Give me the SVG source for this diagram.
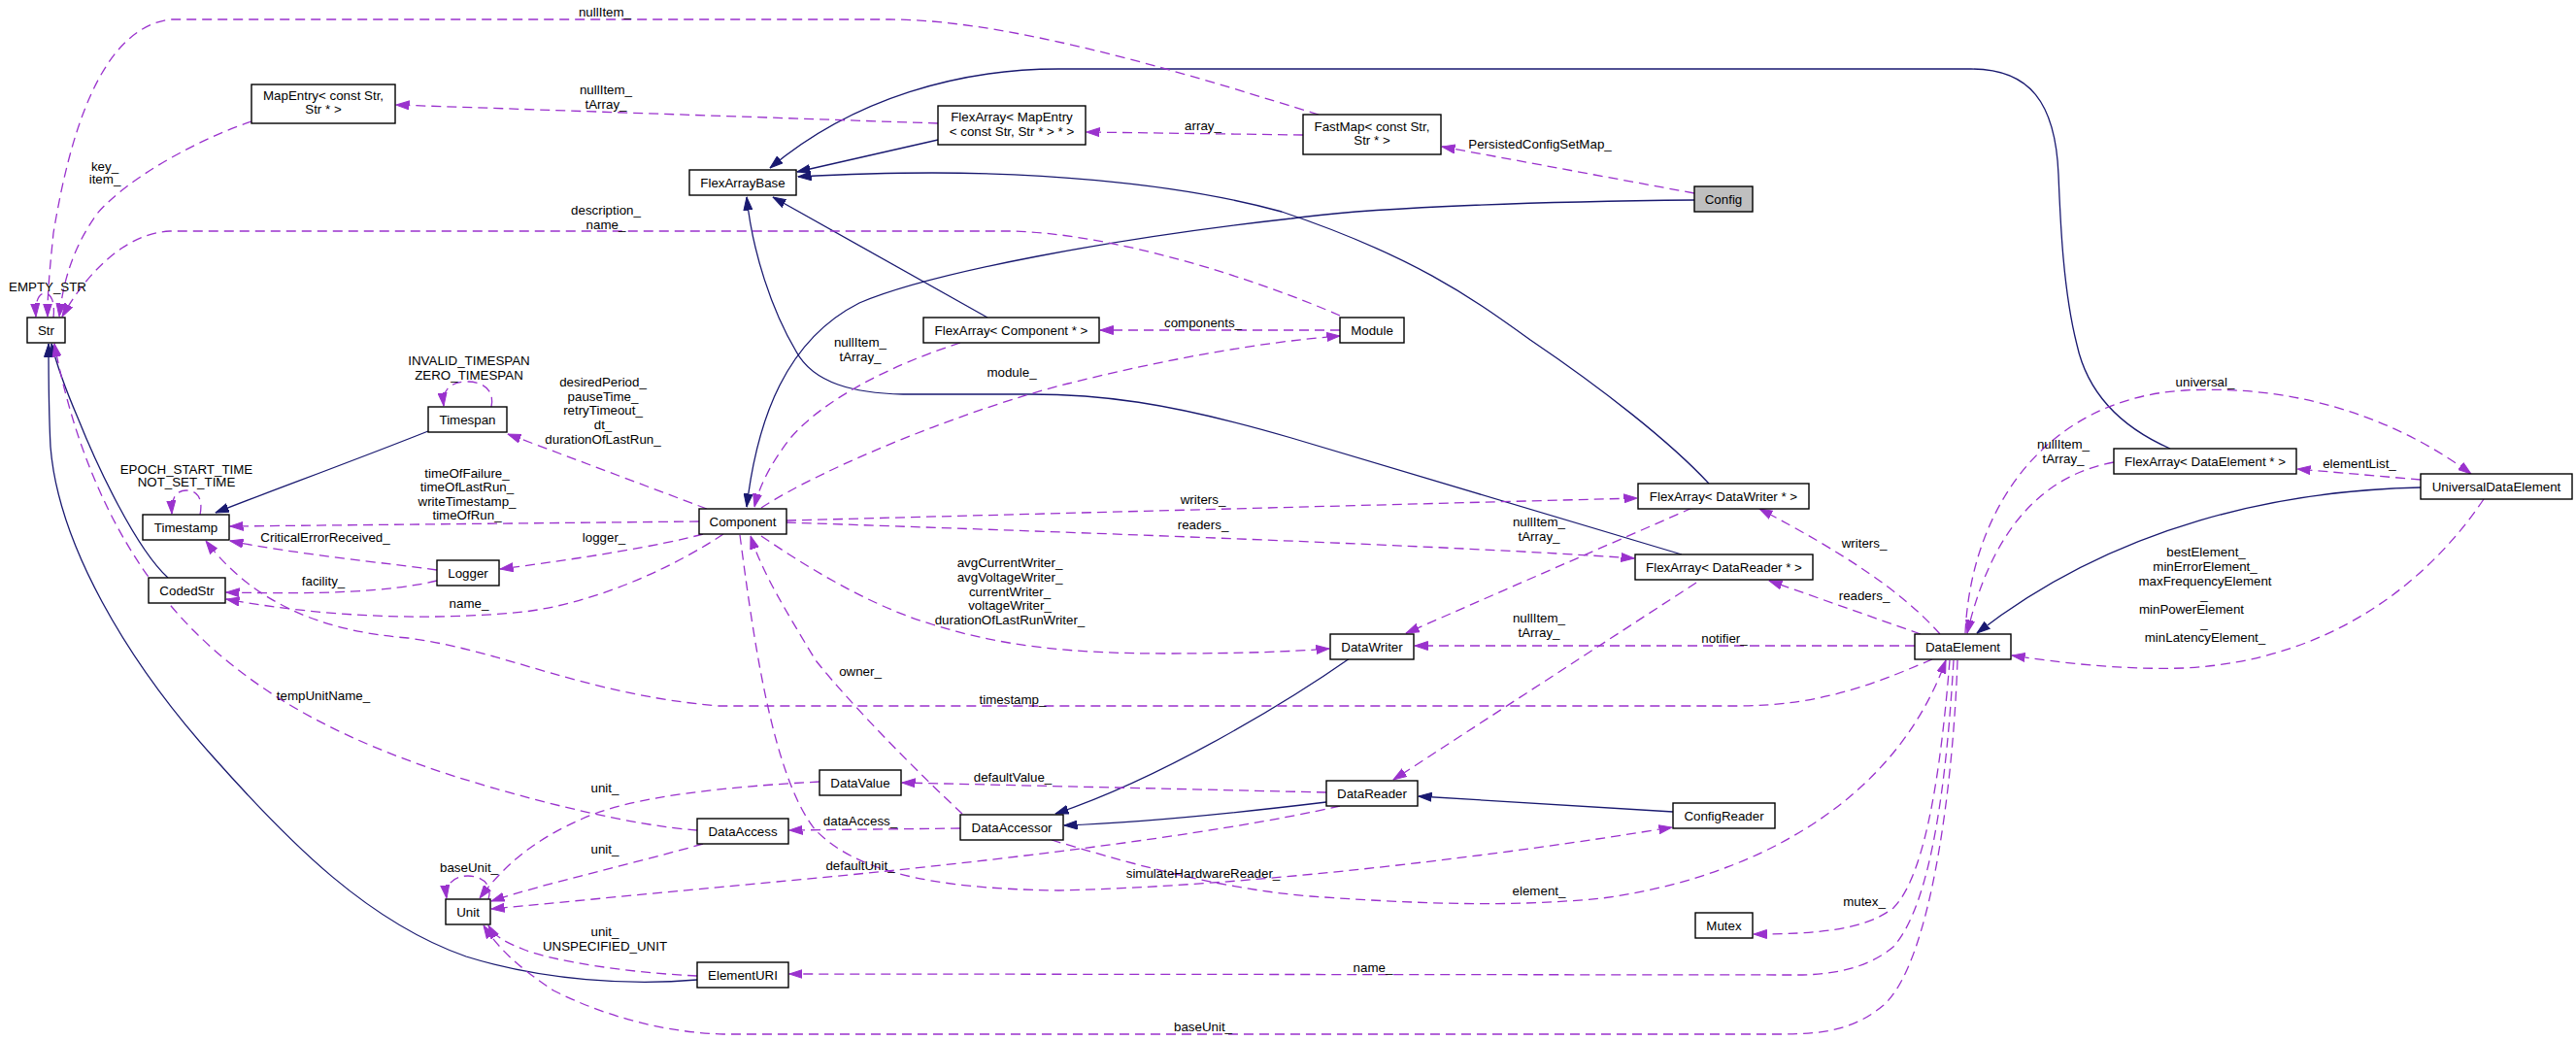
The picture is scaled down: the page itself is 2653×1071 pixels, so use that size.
<svg xmlns="http://www.w3.org/2000/svg" width="2653" height="1071" viewBox="0 0 2653 1071">
<style>
text{font-family:"Liberation Sans",Arial,sans-serif;font-size:13.33px;text-anchor:middle;fill:#000}
.node rect{fill:#fff;stroke:#000;stroke-width:1.4}
.b{fill:none;stroke:#191970;stroke-width:1.3;marker-end:url(#ab)}
.p{fill:none;stroke:#9a32cd;stroke-width:1.3;stroke-dasharray:10,6;marker-end:url(#ap)}
</style>
<defs>
<marker id="ab" markerUnits="userSpaceOnUse" markerWidth="14" markerHeight="10" viewBox="0 0 14 10" refX="13.5" refY="5" orient="auto"><path d="M0,0.5 L13.5,5 L0,9.5 z" fill="#191970" stroke="#191970" stroke-width="1"/></marker>
<marker id="ap" markerUnits="userSpaceOnUse" markerWidth="14" markerHeight="10" viewBox="0 0 14 10" refX="13.5" refY="5" orient="auto"><path d="M0,0.5 L13.5,5 L0,9.5 z" fill="#9a32cd" stroke="#9a32cd" stroke-width="1"/></marker>
</defs>
<rect width="2653" height="1071" fill="#fff"/>
<g id="connectors">
<path class="b" d="M966,144 L821,177"/>
<path class="b" d="M2235,462 C2185,440 2150,405 2139,355 C2125,300 2122,230 2120,180 C2117,105 2090,71 2030,71 L1090,71 C990,71 880,100 793,173"/>
<path class="b" d="M1017,327 L796,203"/>
<path class="b" d="M1732,571 L1330,451 C1200,413 1130,406 1060,406 L930,406 C880,405 838,395 820,362 C795,320 775,260 769,203"/>
<path class="b" d="M1745,206 C1550,208 1400,215 1330,225 C1150,245 960,280 885,312 C810,350 780,430 769,522"/>
<path class="b" d="M1760,498 C1720,455 1650,400 1576,350 C1520,310 1460,265 1320,218 C1200,185 1050,178 960,178 C900,178 860,180 822,182"/>
<path class="b" d="M441,444 C350,480 280,505 222,528"/>
<path class="b" d="M173,595 C140,565 100,480 80,430 C65,395 57,370 53,354"/>
<path class="b" d="M718,1009 C650,1015 560,1010 480,985 C380,950 300,870 220,780 C130,680 60,560 52,460 C50,420 50,380 50,354"/>
<path class="b" d="M1390,678 C1330,720 1200,800 1087,838"/>
<path class="b" d="M1366,826 C1250,840 1150,848 1096,850"/>
<path class="b" d="M1723,836 L1461,820"/>
<path class="b" d="M2493,502 C2350,505 2180,540 2036,652"/>

<path class="p" d="M1358,118 C1250,85 1050,20 916,20 L175,20 C100,30 70,150 55,240 C51,280 49,300 49,326"/>
<path class="p" d="M259,125 C200,145 130,185 100,220 C75,255 65,290 61,326"/>
<path class="p" d="M966,127 L408,108"/>
<path class="p" d="M1342,139 L1119,136"/>
<path class="p" d="M1745,199 L1485,151"/>
<path class="p" d="M1380,325 C1300,290 1150,240 1040,238 L175,238 C130,240 90,280 64,326"/>
<path class="p" d="M1380,340 L1133,340"/>
<path class="p" d="M784,523 C850,480 1000,420 1100,395 C1200,370 1300,352 1380,346"/>
<path class="p" d="M989,353 C920,375 850,410 815,450 C795,475 782,500 777,522"/>
<path class="p" d="M728,524 L523,447"/>
<path class="p" d="M720,537 L237,542"/>
<path class="p" d="M724,550 C680,562 600,575 515,586"/>
<path class="p" d="M745,550 C700,580 620,620 540,630 C440,640 330,635 233,617"/>
<path class="p" d="M450,587 C400,580 300,570 237,557"/>
<path class="p" d="M450,598 C400,610 330,612 233,610"/>
<path class="p" d="M1990,679 C1940,700 1880,727 1790,727 L740,727 C600,715 520,670 420,657 C330,650 260,620 212,557"/>
<path class="p" d="M784,552 C840,590 900,625 960,643 C1030,665 1100,673 1200,673 C1280,673 1330,671 1369,668"/>
<path class="p" d="M810,536 L1686,513"/>
<path class="p" d="M810,538 C1100,548 1500,562 1683,575"/>
<path class="p" d="M1743,523 L1448,652"/>
<path class="p" d="M1747,600 L1435,803"/>
<path class="p" d="M1998,653 C1960,610 1900,570 1812,524"/>
<path class="p" d="M1978,653 L1822,598"/>
<path class="p" d="M1972,665 L1457,665"/>
<path class="p" d="M2024,652 C2030,520 2110,410 2250,402 C2380,395 2480,440 2545,488"/>
<path class="p" d="M2493,494 L2366,483"/>
<path class="p" d="M2177,476 C2100,490 2050,550 2026,652"/>
<path class="p" d="M2558,514 C2500,600 2400,680 2250,688 C2180,690 2120,682 2072,675"/>
<path class="p" d="M1366,816 L929,806"/>
<path class="p" d="M991,838 C950,800 880,730 840,680 C810,630 785,590 773,552"/>
<path class="p" d="M989,853 L813,855"/>
<path class="p" d="M718,855 C650,850 550,825 470,800 C360,765 270,720 200,650 C130,580 80,480 56,354"/>
<path class="p" d="M844,805 C750,810 650,820 600,843 C550,865 520,890 494,925"/>
<path class="p" d="M724,869 C650,890 560,910 506,928"/>
<path class="p" d="M1380,830 C1250,860 1000,890 800,908 C650,922 550,932 506,936"/>
<path class="p" d="M718,1005 C650,1002 570,990 540,978 C520,970 510,965 503,953"/>
<path class="p" d="M2016,680 C2012,800 1990,990 1940,1035 C1910,1060 1880,1065 1833,1065 L745,1065 C680,1063 620,1045 570,1020 C540,1000 515,980 498,953"/>
<path class="p" d="M2012,680 C2005,800 1990,930 1950,975 C1920,1000 1880,1004 1850,1004 L813,1003"/>
<path class="p" d="M2008,680 C2000,780 1985,900 1950,935 C1920,958 1870,962 1806,962"/>
<path class="p" d="M1083,865 C1150,885 1250,915 1350,923 C1450,930 1550,935 1650,925 C1800,905 1950,830 2004,680"/>
<path class="p" d="M762,551 C775,650 795,800 840,855 C880,895 950,915 1090,917 C1300,912 1550,880 1722,852"/>
<path class="p" d="M55,327 C57,310 52,302 46,302 C40,302 36,310 37,326"/>
<path class="p" d="M506,419 C510,400 495,393 482,393 C465,393 455,400 457,418"/>
<path class="p" d="M206,530 C210,510 200,505 192,505 C182,505 176,512 177,529"/>
<path class="p" d="M503,926 C508,910 495,902 482,902 C468,902 458,910 460,925"/>

<text x="623" y="17">nullItem_</text>
<text x="624" y="97">nullItem_</text><text x="624" y="112">tArray_</text>
<text x="108" y="176">key_</text><text x="108" y="189">item_</text>
<text x="624" y="221">description_</text><text x="624" y="236">name_</text>
<text x="49" y="300">EMPTY_STR</text>
<text x="1239" y="134">array_</text>
<text x="1239" y="337">components_</text>
<text x="1586" y="153">PersistedConfigSetMap_</text>
<text x="886" y="357">nullItem_</text><text x="886" y="372">tArray_</text>
<text x="1042" y="388">module_</text>
<text x="483" y="376">INVALID_TIMESPAN</text><text x="483" y="391">ZERO_TIMESPAN</text>
<text x="621" y="398">desiredPeriod_</text><text x="621" y="413">pauseTime_</text><text x="621" y="427">retryTimeout_</text><text x="621" y="442">dt_</text><text x="621" y="457">durationOfLastRun_</text>
<text x="192" y="488">EPOCH_START_TIME</text><text x="192" y="501">NOT_SET_TIME</text>
<text x="481" y="492">timeOfFailure_</text><text x="481" y="506">timeOfLastRun_</text><text x="481" y="521">writeTimestamp_</text><text x="481" y="535">timeOfRun_</text>
<text x="335" y="558">CriticalErrorReceived_</text>
<text x="622" y="558">logger_</text>
<text x="333" y="603">facility_</text>
<text x="483" y="626">name_</text>
<text x="1239" y="519">writers_</text>
<text x="1239" y="545">readers_</text>
<text x="1040" y="584">avgCurrentWriter_</text><text x="1040" y="599">avgVoltageWriter_</text><text x="1040" y="614">currentWriter_</text><text x="1040" y="628">voltageWriter_</text><text x="1040" y="643">durationOfLastRunWriter_</text>
<text x="886" y="696">owner_</text>
<text x="1043" y="725">timestamp_</text>
<text x="333" y="721">tempUnitName_</text>
<text x="1585" y="542">nullItem_</text><text x="1585" y="557">tArray_</text>
<text x="1920" y="564">writers_</text>
<text x="1920" y="618">readers_</text>
<text x="1585" y="641">nullItem_</text><text x="1585" y="656">tArray_</text>
<text x="1776" y="662">notifier_</text>
<text x="2271" y="398">universal_</text>
<text x="2125" y="462">nullItem_</text><text x="2125" y="477">tArray_</text>
<text x="2430" y="482">elementList_</text>
<text x="2272" y="573">bestElement_</text><text x="2271" y="588">minErrorElement_</text><text x="2271" y="603">maxFrequencyElement</text><text x="2270" y="617">_</text><text x="2257" y="632">minPowerElement</text><text x="2270" y="646">_</text><text x="2271" y="661">minLatencyElement_</text>
<text x="483" y="898">baseUnit_</text>
<text x="623" y="816">unit_</text>
<text x="623" y="879">unit_</text>
<text x="623" y="964">unit_</text><text x="623" y="979">UNSPECIFIED_UNIT</text>
<text x="1043" y="805">defaultValue_</text>
<text x="886" y="850">dataAccess_</text>
<text x="886" y="896">defaultUnit_</text>
<text x="1239" y="904">simulateHardwareReader_</text>
<text x="1239" y="1062">baseUnit_</text>
<text x="1414" y="1001">name_</text>
<text x="1585" y="922">element_</text>
<text x="1920" y="933">mutex_</text>
</g>

<g id="Str" class="node"><rect x="28" y="327" width="39" height="26"/><text x="47.5" y="344.7">Str</text></g>
<g id="MapEntry" class="node"><rect x="259" y="87" width="148" height="40"/><text x="333" y="103.4">MapEntry&lt; const Str,</text><text x="333" y="117.4">Str * &gt;</text></g>
<g id="FlexArrayBase" class="node"><rect x="710" y="175" width="110" height="26"/><text x="765" y="192.7">FlexArrayBase</text></g>
<g id="FlexArrayMapEntry" class="node"><rect x="966" y="109" width="152" height="40"/><text x="1042" y="125.4">FlexArray&lt; MapEntry</text><text x="1042" y="140.4">&lt; const Str, Str * &gt; * &gt;</text></g>
<g id="FastMap" class="node"><rect x="1342" y="118" width="142" height="41"/><text x="1413" y="135.4">FastMap&lt; const Str,</text><text x="1413" y="149.4">Str * &gt;</text></g>
<g id="Config" class="node"><rect x="1745" y="192" width="60" height="26" style="fill:#bfbfbf"/><text x="1775" y="209.7">Config</text></g>
<g id="FlexArrayComponent" class="node"><rect x="951" y="327" width="181" height="26"/><text x="1041.5" y="344.7">FlexArray&lt; Component * &gt;</text></g>
<g id="Module" class="node"><rect x="1380" y="327" width="66" height="26"/><text x="1413" y="344.7">Module</text></g>
<g id="Timespan" class="node"><rect x="441" y="419" width="81" height="26"/><text x="481.5" y="436.7">Timespan</text></g>
<g id="Timestamp" class="node"><rect x="147" y="530" width="89" height="26"/><text x="191.5" y="547.7">Timestamp</text></g>
<g id="CodedStr" class="node"><rect x="153" y="595" width="79" height="26"/><text x="192.5" y="612.7">CodedStr</text></g>
<g id="Logger" class="node"><rect x="450" y="577" width="64" height="26"/><text x="482" y="594.7">Logger</text></g>
<g id="Component" class="node"><rect x="720" y="524" width="90" height="26"/><text x="765" y="541.7">Component</text></g>
<g id="FlexArrayDataWriter" class="node"><rect x="1687" y="498" width="176" height="26"/><text x="1775" y="515.7">FlexArray&lt; DataWriter * &gt;</text></g>
<g id="FlexArrayDataReader" class="node"><rect x="1684" y="571" width="183" height="26"/><text x="1775.5" y="588.7">FlexArray&lt; DataReader * &gt;</text></g>
<g id="DataWriter" class="node"><rect x="1370" y="653" width="86" height="26"/><text x="1413" y="670.7">DataWriter</text></g>
<g id="DataElement" class="node"><rect x="1972" y="653" width="99" height="26"/><text x="2021.5" y="670.7">DataElement</text></g>
<g id="FlexArrayDataElement" class="node"><rect x="2177" y="462" width="188" height="26"/><text x="2271" y="479.7">FlexArray&lt; DataElement * &gt;</text></g>
<g id="UniversalDataElement" class="node"><rect x="2493" y="488" width="156" height="26"/><text x="2571" y="505.7">UniversalDataElement</text></g>
<g id="Unit" class="node"><rect x="459" y="926" width="46" height="26"/><text x="482" y="943.7">Unit</text></g>
<g id="DataValue" class="node"><rect x="844" y="793" width="84" height="26"/><text x="886" y="810.7">DataValue</text></g>
<g id="DataAccess" class="node"><rect x="718" y="843" width="94" height="26"/><text x="765" y="860.7">DataAccess</text></g>
<g id="DataAccessor" class="node"><rect x="989" y="839" width="106" height="26"/><text x="1042" y="856.7">DataAccessor</text></g>
<g id="ElementURI" class="node"><rect x="718" y="991" width="94" height="26"/><text x="765" y="1008.7">ElementURI</text></g>
<g id="DataReader" class="node"><rect x="1366" y="804" width="94" height="26"/><text x="1413" y="821.7">DataReader</text></g>
<g id="ConfigReader" class="node"><rect x="1723" y="827" width="105" height="26"/><text x="1775.5" y="844.7">ConfigReader</text></g>
<g id="Mutex" class="node"><rect x="1746" y="940" width="59" height="26"/><text x="1775.5" y="957.7">Mutex</text></g>
</svg>
